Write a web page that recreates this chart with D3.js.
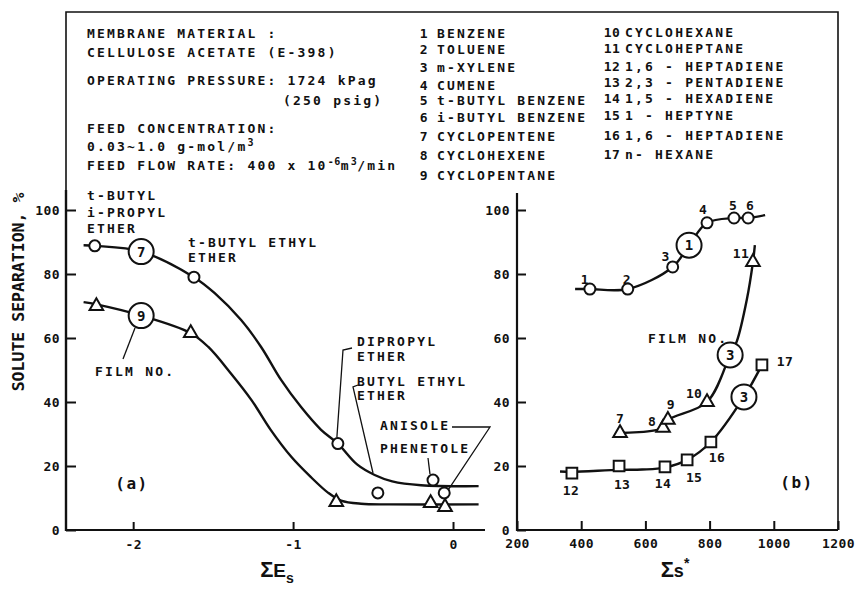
<!DOCTYPE html>
<html>
<head>
<meta charset="utf-8">
<script src="https://cdn.jsdelivr.net/npm/d3@7"></script>
<style>
  body { margin: 0; background: #fff; }
  text { font-family: 'DejaVu Sans Mono', 'Liberation Mono', monospace; font-weight: bold; fill: #111; }
  .note { font-size: 13px; letter-spacing: 2.2px; }
  .num { font-size: 13px; letter-spacing: 0.3px; }
  .keynum { font-size: 13px; letter-spacing: 0.5px; }
  .tick text { font-size: 13px; letter-spacing: 0.4px; }
  .title { font-family: 'Liberation Sans', Arial, sans-serif; }
</style>
</head>
<body>
<div id="chart"></div>
<script>
// ---- panel (a): separation vs sum of Taft Es (ethers)
var esFilm7  = [-2.24, -1.62, -0.72, -0.47, -0.125, -0.055];
var sepFilm7 = [88.8, 79, 27, 11.6, 15.6, 11.6];
var esFilm9  = [-2.23, -1.64, -0.73, -0.14, -0.05];
var sepFilm9 = [70, 61.5, 8.7, 8.4, 7.2];
// fitted lines
var fitEs7  = [-2.31, -2.24, -1.95, -1.62, -1.49, -1.325, -1.2, -1.075, -0.95, -0.825, -0.72, -0.6, -0.49, -0.38, -0.2, 0.16];
var fitSep7 = [89, 88.8, 87, 79, 74, 65.6, 57.2, 46.9, 38.4, 31.3, 27, 20.5, 17.2, 15.2, 14, 13.7];
var fitEs9  = [-2.31, -2.23, -1.95, -1.64, -1.53, -1.39, -1.26, -1.14, -1.01, -0.89, -0.78, -0.7, -0.575, -0.4, 0.16];
var fitSep9 = [71.2, 70.5, 67, 61.5, 57.2, 49, 40.6, 31.3, 22.8, 16.6, 11.6, 9.2, 8.2, 8, 8];

// ---- panel (b): separation vs sum of s* (hydrocarbons)
var ssCircle  = [427, 545, 685, 792, 876, 920];
var sepCircle = [75.3, 75.3, 82.2, 96, 97.5, 97.5];
var noCircle  = ['1', '2', '3', '4', '5', '6'];
var ssTri  = [521, 655, 670, 792, 935];
var sepTri = [30.3, 31.9, 34.4, 40, 83.7];
var noTri  = ['7', '8', '9', '10', '11'];
var ssSq  = [371, 518, 661, 730, 804, 963];
var sepSq = [17.8, 20, 19.7, 21.9, 27.5, 51.6];
var noSq  = ['12', '13', '14', '15', '16', '17'];
var fitSsCircle  = [381, 427, 545, 685, 736, 792, 876, 920, 973];
var fitSepCircle = [75.3, 75.3, 75.3, 82.2, 89, 96, 97.5, 97.5, 98.4];
var fitSsTri  = [521, 655, 670, 792, 864, 885, 916, 935, 941];
var fitSepTri = [30.3, 31.9, 34.4, 40, 54.7, 59, 72, 83.7, 89];
var fitSsSq  = [334, 371, 518, 590, 661, 730, 804, 907, 963];
var fitSepSq = [18.3, 18.2, 18.8, 18.9, 19.5, 21.9, 27.5, 41.6, 51.6];

// ticks
var sepTicks = [0, 20, 40, 60, 80, 100];
var esTicks = [-2, -1, 0];
var ssTicks = [200, 400, 600, 800, 1000, 1200];

// solute key
var soluteNames = ['BENZENE', 'TOLUENE', 'm-XYLENE', 'CUMENE', 't-BUTYL BENZENE', 'i-BUTYL BENZENE',
  'CYCLOPENTENE', 'CYCLOHEXENE', 'CYCLOPENTANE', 'CYCLOHEXANE', 'CYCLOHEPTANE', '1,6 - HEPTADIENE',
  '2,3 - PENTADIENE', '1,5 - HEXADIENE', '1 - HEPTYNE', '1,6 - HEPTADIENE', 'n- HEXANE'];

var ink = '#111';
var width = 860, height = 590;

var svg = d3.select('#chart')
  .append('svg')
    .attr('width', width)
    .attr('height', height);

svg.append('rect')
  .attr('width', width)
  .attr('height', height)
  .attr('fill', '#fff');

var xA = d3.scaleLinear().domain([-2.42, 0.2]).range([66, 485]);
var xB = d3.scaleLinear().domain([200, 1200]).range([517, 838]);
var y = d3.scaleLinear().domain([0, 100]).range([530, 210]);

// frame and axis lines
svg.append('path')
  .attr('d', 'M66,530V12H838V530')
  .attr('fill', 'none')
  .attr('stroke', ink)
  .attr('stroke-width', 1.6);
svg.append('line').attr('x1', 66).attr('x2', 66).attr('y1', 190).attr('y2', 531)
  .attr('stroke', ink).attr('stroke-width', 2.4);
svg.append('line').attr('x1', 65).attr('x2', 485).attr('y1', 530).attr('y2', 530)
  .attr('stroke', ink).attr('stroke-width', 2.2);
svg.append('line').attr('x1', 517).attr('x2', 838).attr('y1', 530).attr('y2', 530)
  .attr('stroke', ink).attr('stroke-width', 2.2);
svg.append('line').attr('x1', 517).attr('x2', 517).attr('y1', 193).attr('y2', 531)
  .attr('stroke', ink).attr('stroke-width', 2.2);

function styleAxis(g) {
  g.select('.domain').remove();
  g.attr('color', ink);
  g.selectAll('.tick line').attr('stroke-width', 2);
}

var dashFmt = function(d) { return d < 0 ? '-' + Math.abs(d) : String(d); };

svg.append('g')
  .attr('transform', 'translate(66,0)')
  .call(d3.axisLeft(y).tickValues(sepTicks).tickSize(-10).tickPadding(6).tickFormat(d3.format('d')))
  .call(styleAxis);

svg.append('g')
  .attr('transform', 'translate(0,530)')
  .call(d3.axisBottom(xA).tickValues(esTicks).tickSize(-8).tickPadding(10).tickFormat(dashFmt))
  .call(styleAxis);

svg.append('g')
  .attr('transform', 'translate(517,0)')
  .call(d3.axisLeft(y).tickValues(sepTicks).tickSize(-9).tickPadding(7).tickFormat(d3.format('d')))
  .call(styleAxis);

svg.append('g')
  .attr('transform', 'translate(0,530)')
  .call(d3.axisBottom(xB).tickValues(ssTicks).tickSize(-9).tickPadding(9).tickFormat(d3.format('d')))
  .call(styleAxis);

// axis titles
svg.append('text')
  .attr('transform', 'translate(24,292) rotate(-90)')
  .attr('text-anchor', 'middle')
  .attr('font-size', 16.5)
  .text('SOLUTE SEPARATION, %');

var tA = svg.append('text').attr('class', 'title').attr('x', 277).attr('y', 577).attr('text-anchor', 'middle');
tA.append('tspan').attr('font-size', 22).text('Σ');
tA.append('tspan').attr('font-size', 19).text('E');
tA.append('tspan').attr('font-size', 14).attr('dy', 6).text('s');

var tB = svg.append('text').attr('class', 'title').attr('x', 675).attr('y', 577).attr('text-anchor', 'middle');
tB.append('tspan').attr('font-size', 22).text('Σ');
tB.append('tspan').attr('font-size', 18).text('s');
tB.append('tspan').attr('font-size', 14).attr('dy', -9).text('*');

// curves
function zipPts(xs, ys) { return xs.map(function(v, i) { return [v, ys[i]]; }); }

var lineA = d3.line().x(function(d) { return xA(d[0]); }).y(function(d) { return y(d[1]); })
  .curve(d3.curveCatmullRom.alpha(0.5));
var lineB = d3.line().x(function(d) { return xB(d[0]); }).y(function(d) { return y(d[1]); })
  .curve(d3.curveCatmullRom.alpha(0.5));

var curves = [
  { line: lineA, pts: zipPts(fitEs7, fitSep7) },
  { line: lineA, pts: zipPts(fitEs9, fitSep9) },
  { line: lineB, pts: zipPts(fitSsCircle, fitSepCircle) },
  { line: lineB, pts: zipPts(fitSsTri, fitSepTri) },
  { line: lineB, pts: zipPts(fitSsSq, fitSepSq) }
];

svg.append('g')
  .selectAll('path')
  .data(curves)
  .enter().append('path')
    .attr('d', function(d) { return d.line(d.pts); })
    .attr('fill', 'none')
    .attr('stroke', ink)
    .attr('stroke-width', 2.4);

// leader lines for panel (a)
var leaders = [
  [[xA(esFilm7[2]) - 1, y(sepFilm7[2]) - 6], [343, 350], [352, 348]],
  [[373, 473], [353, 387], [358, 385]],
  [[452, 427], [490, 427], [xA(esFilm7[5]), y(sepFilm7[5]) + 3]],
  [[428, 458], [430, y(sepFilm7[4]) - 6]],
  [[135, 328], [123, 359]]
];
svg.append('g')
  .selectAll('path')
  .data(leaders)
  .enter().append('path')
    .attr('d', function(d) { return d3.line()(d); })
    .attr('fill', 'none')
    .attr('stroke', ink)
    .attr('stroke-width', 1.3);

// markers
function circles(xs, ys, sx) {
  svg.append('g')
    .selectAll('circle')
    .data(zipPts(xs, ys))
    .enter().append('circle')
      .attr('cx', function(d) { return sx(d[0]); })
      .attr('cy', function(d) { return y(d[1]); })
      .attr('r', 5.5)
      .attr('fill', '#fff')
      .attr('stroke', ink)
      .attr('stroke-width', 2);
}
function symbols(xs, ys, sx, type, size) {
  svg.append('g')
    .selectAll('path')
    .data(zipPts(xs, ys))
    .enter().append('path')
      .attr('transform', function(d) { return 'translate(' + sx(d[0]) + ',' + y(d[1]) + ')'; })
      .attr('d', d3.symbol(type, size))
      .attr('fill', '#fff')
      .attr('stroke', ink)
      .attr('stroke-width', 2);
}

circles(esFilm7, sepFilm7, xA);
symbols(esFilm9, sepFilm9, xA, d3.symbolTriangle, 80);
circles(ssCircle, sepCircle, xB);
symbols(ssTri, sepTri, xB, d3.symbolTriangle, 80);
symbols(ssSq, sepSq, xB, d3.symbolSquare, 115);

// solute numbers beside the points in panel (b)
var offCircle = [[-5, -10], [-1, -10], [-7, -11], [-4, -13], [-1, -13], [2, -13]];
var offTri = [[0, -15], [-11, -7], [3, -16], [-13, -9], [-12, -9]];
var offSq = [[-1, 17], [3, 18], [-2, 16], [7, 17], [6, 15], [23, -4]];

function numbers(xs, ys, labels, offs) {
  svg.append('g')
    .selectAll('text')
    .data(labels)
    .enter().append('text')
      .attr('class', 'num')
      .attr('x', function(d, i) { return xB(xs[i]) + offs[i][0]; })
      .attr('y', function(d, i) { return y(ys[i]) + offs[i][1]; })
      .attr('dy', '0.36em')
      .attr('text-anchor', 'middle')
      .text(function(d) { return d; });
}
numbers(ssCircle, sepCircle, noCircle, offCircle);
numbers(ssTri, sepTri, noTri, offTri);
numbers(ssSq, sepSq, noSq, offSq);

// film number tags sitting on the curves
var filmTags = [
  { film: '7', x: xA(-1.95), y: y(87) },
  { film: '9', x: xA(-1.95), y: y(67) },
  { film: '1', x: xB(736), y: y(89) },
  { film: '3', x: xB(864), y: y(54.7) },
  { film: '3', x: xB(907), y: y(41.6) }
];
var tag = svg.append('g')
  .selectAll('g')
  .data(filmTags)
  .enter().append('g')
    .attr('transform', function(d) { return 'translate(' + d.x + ',' + d.y + ')'; });
tag.append('circle')
  .attr('r', 12.5)
  .attr('fill', '#fff')
  .attr('stroke', ink)
  .attr('stroke-width', 2);
tag.append('text')
  .attr('text-anchor', 'middle')
  .attr('dy', '0.36em')
  .attr('font-size', 14)
  .text(function(d) { return d.film; });

// text notes
var notes = [
  { x: 87, y: 195, t: 't-BUTYL' },
  { x: 87, y: 212, t: 'i-PROPYL' },
  { x: 87, y: 228, t: 'ETHER' },
  { x: 188, y: 242, t: 't-BUTYL ETHYL' },
  { x: 188, y: 257, t: 'ETHER' },
  { x: 357, y: 341, t: 'DIPROPYL' },
  { x: 357, y: 356, t: 'ETHER' },
  { x: 357, y: 381, t: 'BUTYL ETHYL' },
  { x: 357, y: 395, t: 'ETHER' },
  { x: 380, y: 425, t: 'ANISOLE' },
  { x: 380, y: 448, t: 'PHENETOLE' },
  { x: 95, y: 371, t: 'FILM NO.' },
  { x: 648, y: 338, t: 'FILM NO.' }
];
svg.append('g')
  .selectAll('text')
  .data(notes)
  .enter().append('text')
    .attr('class', 'note')
    .attr('x', function(d) { return d.x; })
    .attr('y', function(d) { return d.y; })
    .attr('dy', '0.36em')
    .text(function(d) { return d.t; });

svg.append('text').attr('x', 132).attr('y', 483).attr('dy', '0.36em')
  .attr('text-anchor', 'middle').attr('font-size', 16).attr('letter-spacing', 1.5).text('(a)');
svg.append('text').attr('x', 797).attr('y', 482).attr('dy', '0.36em')
  .attr('text-anchor', 'middle').attr('font-size', 16).attr('letter-spacing', 1.5).text('(b)');

// operating conditions block
var spec = [
  { y: 33, parts: [['MEMBRANE MATERIAL :']] },
  { y: 52, parts: [['CELLULOSE ACETATE (E-398)']] },
  { y: 80, parts: [['OPERATING PRESSURE: 1724 kPag']] },
  { y: 100, x: 283, parts: [['(250 psig)']] },
  { y: 128, parts: [['FEED CONCENTRATION:']] },
  { y: 146, parts: [['0.03~1.0 g-mol/m'], ['3', 'sup']] },
  { y: 165, parts: [['FEED FLOW RATE: 400 x 10'], ['-6', 'sup'], ['m'], ['3', 'sup'], ['/min']] }
];
spec.forEach(function(row) {
  var t = svg.append('text')
    .attr('class', 'note')
    .attr('x', row.x || 87)
    .attr('y', row.y + 4.5);
  row.parts.forEach(function(p) {
    var s = t.append('tspan').text(p[0]);
    if (p[1] === 'sup') s.attr('dy', -5).style('font-size', '10px').style('letter-spacing', '0.5px');
    else if (t.selectAll('tspan').size() > 1) s.attr('dy', 5);
  });
});

var keyRowsLeft = [33, 49, 67, 85, 100, 117, 136, 155, 175];
var keyRowsRight = [32, 48, 66, 82, 98, 115, 135, 154];
var key = svg.append('g');
soluteNames.forEach(function(name, i) {
  var left = i < 9;
  var yy = left ? keyRowsLeft[i] : keyRowsRight[i - 9];
  key.append('text')
    .attr('class', 'keynum')
    .attr('x', left ? 424 : 612)
    .attr('y', yy)
    .attr('dy', '0.36em')
    .attr('text-anchor', 'middle')
    .text(String(i + 1));
  key.append('text')
    .attr('class', 'note')
    .attr('x', left ? 437 : 625)
    .attr('y', yy)
    .attr('dy', '0.36em')
    .text(name);
});
</script>
</body>
</html>
